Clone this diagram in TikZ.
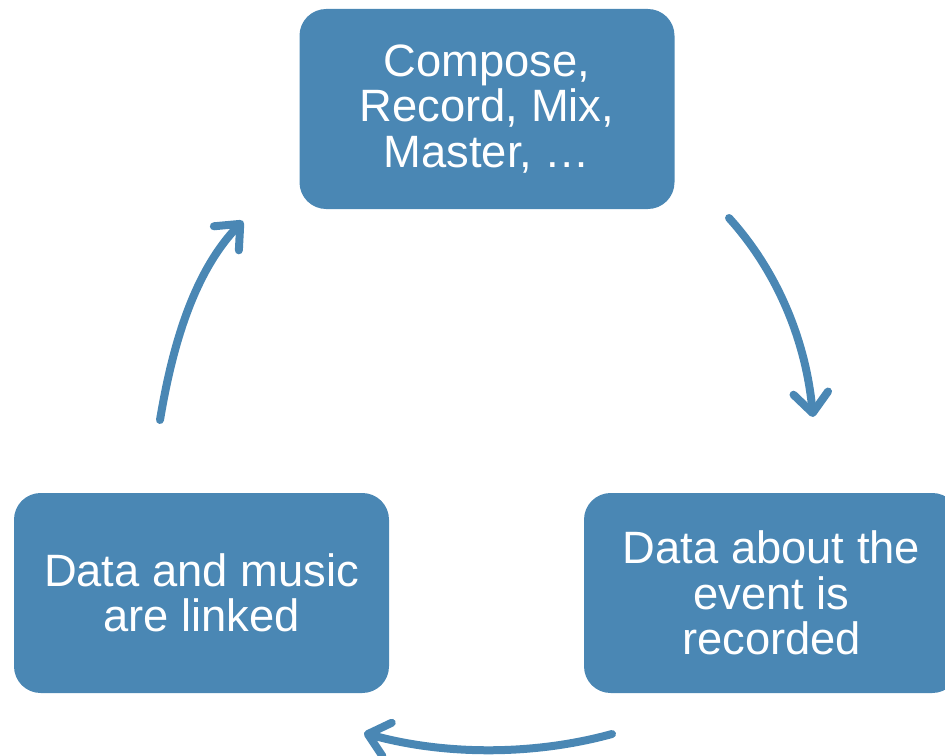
\documentclass[tikz,border=0pt]{standalone}
\usepackage{fontspec}
\setmainfont{Liberation Sans}
\usetikzlibrary{arrows.meta}
\definecolor{boxblue}{RGB}{74,135,180}
\begin{document}
\begin{tikzpicture}[x=0.75pt,y=-0.75pt,
  stagebox/.style={draw=none, fill=boxblue, rounded corners=20pt,
    minimum width=281.25pt, minimum height=150pt, inner sep=0pt,
    text=white, align=center, font=\fontsize{34pt}{34pt}\selectfont},
  cyclearrow/.style={draw=boxblue, line width=6pt, line cap=round,
    -{Straight Barb[length=15pt,width=26pt,round]}}]
\useasboundingbox (0,0) rectangle (945,756);
\clip (0,0) rectangle (945,756);
\node[stagebox] (top) at (487,109) {Compose,\\Record, Mix,\\Master, …};
\node[stagebox] (right) at (771.5,593) {\raisebox{2pt}{\parbox{270pt}{\centering Data about the\\event is\\recorded}}};
\node[stagebox] (left) at (201.5,593) {\raisebox{2pt}{\parbox{270pt}{\centering Data and music\\are linked}}};
\coordinate (a1s) at (729,218);
\coordinate (a1e) at (813,417);
\coordinate (a2s) at (160,420);
\coordinate (a2e) at (243,221);
\coordinate (a3s) at (612,734);
\coordinate (a3e) at (364,733);
\draw[cyclearrow] (a1s) .. controls (778,272) and (806,342) .. (a1e);
\draw[cyclearrow] (a2s) .. controls (172,348) and (193,273) .. (a2e);
\draw[cyclearrow] (a3s) .. controls (532,756) and (443,755) .. (a3e);
\end{tikzpicture}
\end{document}
